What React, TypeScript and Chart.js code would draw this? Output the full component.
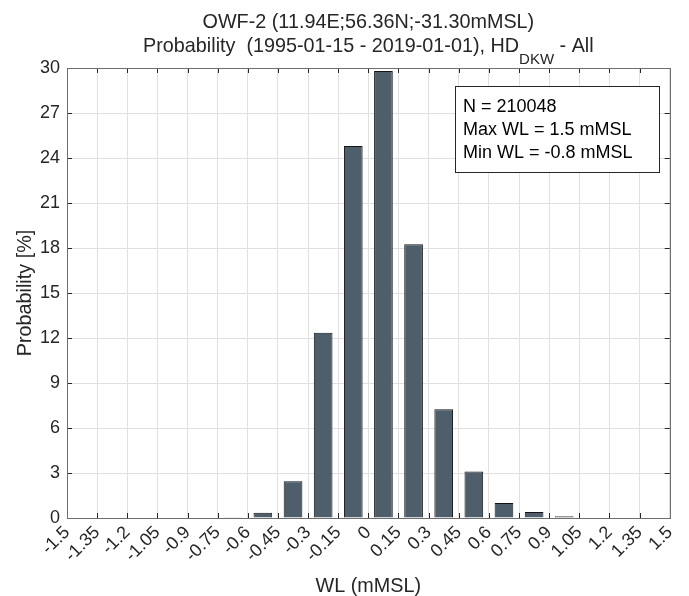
import React, { useEffect, useRef } from "react";
import { Chart, registerables } from "chart.js";

Chart.register(...registerables);

const binCenters = [-1.425, -1.275, -1.125, -0.975, -0.825, -0.675, -0.525, -0.375, -0.225, -0.075, 0.075, 0.225, 0.375, 0.525, 0.675, 0.825, 0.975, 1.125, 1.275, 1.425];
const probability = [0, 0, 0, 0, 0.03, 0.05, 0.35, 2.45, 12.35, 24.8, 29.8, 18.25, 7.25, 3.1, 1.0, 0.4, 0.12, 0.04, 0.03, 0.03];
const xTickValues = [-1.5, -1.35, -1.2, -1.05, -0.9, -0.75, -0.6, -0.45, -0.3, -0.15, 0, 0.15, 0.3, 0.45, 0.6, 0.75, 0.9, 1.05, 1.2, 1.35, 1.5];
const xTickLabels = ["-1.5", "-1.35", "-1.2", "-1.05", "-0.9", "-0.75", "-0.6", "-0.45", "-0.3", "-0.15", "0", "0.15", "0.3", "0.45", "0.6", "0.75", "0.9", "1.05", "1.2", "1.35", "1.5"];
const yTickValues = [0, 3, 6, 9, 12, 15, 18, 21, 24, 27, 30];

const titleLine1 = "OWF-2 (11.94E;56.36N;-31.30mMSL)";
const titleLine2a = "Probability  (1995-01-15 - 2019-01-01), HD";
const titleLine2sub = "DKW";
const titleLine2b = " - All";
const infoLines = ["N = 210048", "Max WL = 1.5 mMSL", "Min WL = -0.8 mMSL"];
const xTitle = "WL (mMSL)";
const yTitle = "Probability [%]";

const FONT = "'Liberation Sans', Arial, sans-serif";
const TEXT = "#262626";
const TITLE_PX = 19.8;
const TICK_PX = 18;

const decorPlugin = {
  id: "decor",
  afterDraw(chart: any) {
    const ctx = chart.ctx;
    const a = chart.chartArea;
    const xs = chart.scales.x;
    const ys = chart.scales.y;
    const cx = (a.left + a.right) / 2;
    ctx.save();
    // Titles
    ctx.fillStyle = TEXT;
    ctx.textBaseline = "middle";
    ctx.textAlign = "left";
    ctx.font = `${TITLE_PX}px ${FONT}`;
    const w1 = ctx.measureText(titleLine1).width;
    ctx.fillText(titleLine1, cx - w1 / 2, 23);
    const wa = ctx.measureText(titleLine2a).width;
    const wb = ctx.measureText(titleLine2b).width;
    ctx.font = `15px ${FONT}`;
    const ws = ctx.measureText(titleLine2sub).width;
    const total = wa + ws + wb;
    const x0 = cx - total / 2;
    ctx.font = `${TITLE_PX}px ${FONT}`;
    ctx.fillText(titleLine2a, x0, 47);
    ctx.font = `15px ${FONT}`;
    ctx.fillText(titleLine2sub, x0 + wa, 60);
    ctx.font = `${TITLE_PX}px ${FONT}`;
    ctx.fillText(titleLine2b, x0 + wa + ws, 47);

    // Axis titles
    ctx.font = `${TITLE_PX}px ${FONT}`;
    ctx.textAlign = "center";
    ctx.textBaseline = "alphabetic";
    ctx.fillText(xTitle, cx, 592);
    ctx.save();
    ctx.translate(31, (a.top + a.bottom) / 2);
    ctx.rotate(-Math.PI / 2);
    ctx.fillText(yTitle, 0, 0);
    ctx.restore();

    // Inside ticks
    ctx.strokeStyle = TEXT;
    ctx.lineWidth = 1;
    const tl = 5;
    ctx.beginPath();
    xTickValues.forEach((v) => {
      const px = Math.round(xs.getPixelForValue(v)) + 0.5;
      ctx.moveTo(px, a.bottom);
      ctx.lineTo(px, a.bottom - tl);
      ctx.moveTo(px, a.top);
      ctx.lineTo(px, a.top + tl);
    });
    yTickValues.forEach((v) => {
      const py = Math.round(ys.getPixelForValue(v)) + 0.5;
      ctx.moveTo(a.left, py);
      ctx.lineTo(a.left + tl, py);
      ctx.moveTo(a.right, py);
      ctx.lineTo(a.right - tl, py);
    });
    ctx.stroke();

    // Axes box
    ctx.strokeStyle = "#6e6e6e";
    ctx.strokeRect(Math.round(a.left) + 0.5, Math.round(a.top) + 0.5, Math.round(a.right - a.left), Math.round(a.bottom - a.top));

    // Info box
    const bw = 204, bh = 86;
    const bx = Math.round(a.right - 11 - bw) + 0.5;
    const by = Math.round(a.top + 18) + 0.5;
    ctx.fillStyle = "#ffffff";
    ctx.fillRect(bx, by, bw, bh);
    ctx.strokeStyle = "#262626";
    ctx.strokeRect(bx, by, bw, bh);
    ctx.fillStyle = "#000";
    ctx.textAlign = "left";
    ctx.textBaseline = "alphabetic";
    ctx.font = `${TICK_PX}px ${FONT}`;
    infoLines.forEach((t, i) => {
      ctx.fillText(t, bx + 7.5, by + 25 + i * 23);
    });
    ctx.restore();
  },
};

export default function App() {
  const ref = useRef<HTMLCanvasElement | null>(null);
  useEffect(() => {
    if (!ref.current) return;
    const chart = new Chart(ref.current, {
      type: "bar",
      data: {
        datasets: [
          {
            data: binCenters.map((x, i) => ({ x, y: probability[i] })),
            backgroundColor: "#4f5e6b",
            borderColor: "#141414",
            borderWidth: 1,
            barPercentage: 0.62,
            categoryPercentage: 1,
          },
        ],
      },
      options: {
        responsive: false,
        animation: false,
        devicePixelRatio: 1,
        layout: { padding: { top: 68, right: 6, bottom: 0, left: 0 } },
        plugins: { legend: { display: false }, tooltip: { enabled: false }, title: { display: false } },
        scales: {
          x: {
            type: "linear",
            min: -1.5,
            max: 1.5,
            offset: false,
            afterBuildTicks: (scale: any) => {
              scale.ticks = xTickValues.map((v) => ({ value: v }));
            },
            afterFit: (scale: any) => {
              scale.height = 78;
            },
            grid: { color: "#e0e0e0", drawTicks: false, offset: false },
            border: { display: false },
            ticks: {
              autoSkip: false,
              minRotation: 45,
              maxRotation: 45,
              padding: 4,
              color: TEXT,
              font: { family: FONT, size: TICK_PX },
              callback: (_v: any, i: number) => xTickLabels[i],
            },
          },
          y: {
            min: 0,
            max: 30,
            afterBuildTicks: (scale: any) => {
              scale.ticks = yTickValues.map((v) => ({ value: v }));
            },
            afterFit: (scale: any) => {
              scale.width = 67;
            },
            grid: { color: "#e0e0e0", drawTicks: false },
            border: { display: false },
            ticks: {
              padding: 7,
              color: TEXT,
              font: { family: FONT, size: TICK_PX },
              callback: (v: any) => String(v),
            },
          },
        },
      },
      plugins: [decorPlugin],
    } as any);
    return () => chart.destroy();
  }, []);
  return (
    <div style={{ position: "absolute", left: 0, top: 0, width: 689, height: 596, background: "#fff" }}>
      <canvas ref={ref} width={689} height={596} />
    </div>
  );
}
